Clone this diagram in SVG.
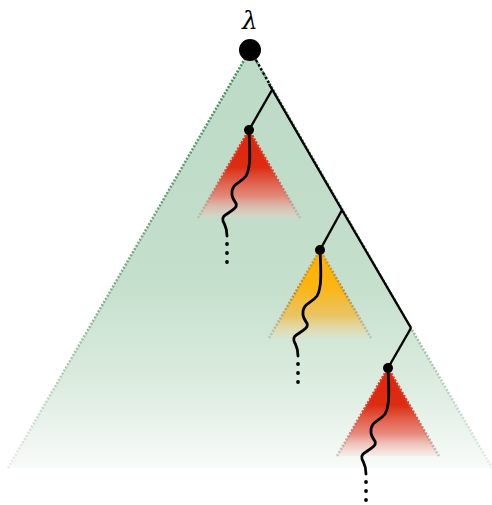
<svg xmlns="http://www.w3.org/2000/svg" width="492" height="505" viewBox="0 0 492 505">
<style>
.edge{fill:none;stroke-width:2.6;stroke-dasharray:2 1.6}
.line{fill:none;stroke:#000;stroke-width:2.4}
.snake{fill:none;stroke:#000;stroke-width:2.8;stroke-linecap:round}
.dot{fill:#000}
.node{fill:#000}
</style>
<defs>
<linearGradient id="gBig" x1="0" y1="0" x2="0" y2="1">
<stop offset="0" stop-color="#bcdac6"/>
<stop offset="0.55" stop-color="#c4dfcc"/>
<stop offset="0.8" stop-color="#dcece0"/>
<stop offset="1" stop-color="#f8fbf8"/>
</linearGradient>
<linearGradient id="gBigEdge" x1="0" y1="0" x2="0" y2="1">
<stop offset="0" stop-color="#3f8c58"/>
<stop offset="0.6" stop-color="#88ad94"/>
<stop offset="1" stop-color="#e8efe8"/>
</linearGradient>
<linearGradient id="gRed" x1="0" y1="0" x2="0" y2="1">
<stop offset="0" stop-color="#e0240c"/>
<stop offset="0.42" stop-color="#dc2c12"/>
<stop offset="0.75" stop-color="#e8796a" stop-opacity="0.85"/>
<stop offset="1" stop-color="#f4c8c0" stop-opacity="0.25"/>
</linearGradient>
<linearGradient id="gRedEdge" x1="0" y1="0" x2="0" y2="1">
<stop offset="0" stop-color="#ee2a18"/>
<stop offset="0.5" stop-color="#d84a3a"/>
<stop offset="1" stop-color="#a8b0a8" stop-opacity="0.6"/>
</linearGradient>
<linearGradient id="gYel" x1="0" y1="0" x2="0" y2="1">
<stop offset="0" stop-color="#ffb000"/>
<stop offset="0.42" stop-color="#fcb512"/>
<stop offset="0.75" stop-color="#eebf52" stop-opacity="0.85"/>
<stop offset="1" stop-color="#efdca8" stop-opacity="0.25"/>
</linearGradient>
<linearGradient id="gYelEdge" x1="0" y1="0" x2="0" y2="1">
<stop offset="0" stop-color="#e89a10"/>
<stop offset="0.5" stop-color="#b88c3c"/>
<stop offset="1" stop-color="#a8b0a8" stop-opacity="0.6"/>
</linearGradient>
<g id="snake">
<path class="snake" d="M0,0 C1,20 2,38 -3,46 C-9,54 -18,53 -17,65 C-16,72 -10,73 -14,78 C-20,84 -28,85 -26,91 C-24,96 -22,97 -22,106"/>
<circle class="dot" cx="-22" cy="114" r="1.9"/>
<circle class="dot" cx="-22" cy="123" r="1.9"/>
<circle class="dot" cx="-22" cy="132" r="1.9"/>
</g>
</defs>

<g id="tree">
<path d="M250,50 L492,468 L8,468 Z" fill="url(#gBig)"/>
<path class="edge" d="M8,468 L250,50 L492,468" stroke="url(#gBigEdge)"/>
</g>

<g id="subtree1">
<path d="M249,130 L300,218 L198,218 Z" fill="url(#gRed)"/>
<path class="edge" d="M198,218 L249,130 L300,218" stroke="url(#gRedEdge)"/>
</g>
<g id="subtree2">
<path d="M320,250 L371,338 L269,338 Z" fill="url(#gYel)"/>
<path class="edge" d="M269,338 L320,250 L371,338" stroke="url(#gYelEdge)"/>
</g>
<g id="subtree3">
<path d="M388,368 L439,456 L337,456 Z" fill="url(#gRed)"/>
<path class="edge" d="M337,456 L388,368 L439,456" stroke="url(#gRedEdge)"/>
</g>

<g id="connectors">
<path class="line" stroke-dasharray="2.4 2.4" d="M256,60 L270,85"/>
<path class="line" d="M269,84 L342,210 L411,328"/>
<path class="line" d="M272,90 L249,130"/>
<path class="line" d="M342,210 L320,250"/>
<path class="line" d="M411,328 L388,368"/>
<use href="#snake" x="249" y="130"/>
<use href="#snake" x="320" y="250"/>
<use href="#snake" x="388" y="368"/>
</g>

<g id="root">
<circle class="node" cx="250" cy="50" r="11"/>
<text x="250" y="29" text-anchor="middle" fill="#000" font-family="'DejaVu Serif', serif" font-style="italic" font-size="25">λ</text>
</g>
<g id="n1"><circle class="node" cx="249" cy="130" r="5"/></g>
<g id="n2"><circle class="node" cx="320" cy="250" r="5"/></g>
<g id="n3"><circle class="node" cx="388" cy="368" r="5"/></g>
</svg>
